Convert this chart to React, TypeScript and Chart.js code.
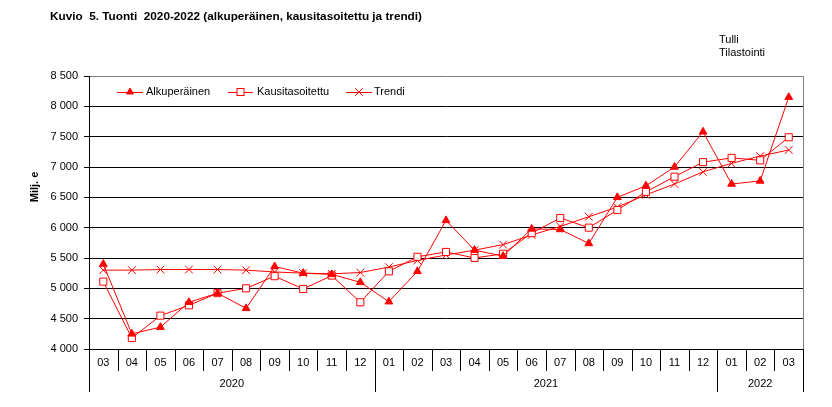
import React, { useEffect, useRef } from "react";
import { Chart, registerables } from "chart.js";

Chart.register(...registerables);

const months = ["03","04","05","06","07","08","09","10","11","12","01","02","03","04","05","06","07","08","09","10","11","12","01","02","03"];
const years = ["2020","2020","2020","2020","2020","2020","2020","2020","2020","2020","2021","2021","2021","2021","2021","2021","2021","2021","2021","2021","2021","2021","2022","2022","2022"];

const alkuperainen = [5400,4250,4360,4770,4920,4670,5360,5250,5230,5100,4780,5280,6120,5630,5530,5980,5970,5740,6500,6690,7000,7580,6720,6770,8150];
const kausitasoitettu = [5110,4180,4550,4720,4920,5000,5200,4990,5210,4770,5280,5520,5600,5500,5570,5910,6160,6000,6290,6590,6840,7080,7150,7110,7490];
const trendi = [5300,5300,5310,5310,5310,5300,5270,5250,5240,5260,5350,5460,5550,5630,5720,5880,6020,6180,6340,6540,6720,6920,7060,7180,7280];

const seriesNames = ["Alkuperäinen", "Kausitasoitettu", "Trendi"];
const titleText = "Kuvio  5. Tuonti  2020-2022 (alkuperäinen, kausitasoitettu ja trendi)";
const sourceLines = ["Tulli", "Tilastointi"];
const yTitle = "Milj. e";

const RED = "#ff0000";
const FONT = "Arial, 'Liberation Sans', sans-serif";

function fmt(v: number) {
  return String(v).replace(/\B(?=(\d{3})+(?!\d))/g, " ");
}

function drawMarker(ctx: CanvasRenderingContext2D, kind: number, x: number, y: number) {
  ctx.save();
  ctx.strokeStyle = RED;
  ctx.fillStyle = RED;
  ctx.lineWidth = 1;
  if (kind === 0) {
    const r = 4;
    ctx.beginPath();
    ctx.moveTo(x, y - r);
    ctx.lineTo(x + r * 0.866, y + r * 0.5);
    ctx.lineTo(x - r * 0.866, y + r * 0.5);
    ctx.closePath();
    ctx.fill();
    ctx.stroke();
  } else if (kind === 1) {
    const s = 3.5;
    ctx.fillStyle = "#fff";
    ctx.fillRect(x - s, y - s, 2 * s, 2 * s);
    ctx.strokeRect(x - s, y - s, 2 * s, 2 * s);
  } else {
    const s = 3.8;
    ctx.beginPath();
    ctx.moveTo(x - s, y - s);
    ctx.lineTo(x + s, y + s);
    ctx.moveTo(x + s, y - s);
    ctx.lineTo(x - s, y + s);
    ctx.stroke();
  }
  ctx.restore();
}

const decorPlugin = {
  id: "decor",
  afterDraw(chart: any) {
    const ctx: CanvasRenderingContext2D = chart.ctx;
    const area = chart.chartArea;
    const xs = chart.scales.x;
    const n = months.length;
    const w = xs.getPixelForValue(1) - xs.getPixelForValue(0);
    const edge = (i: number) => xs.getPixelForValue(i) - w / 2;
    ctx.save();

    // right border
    ctx.strokeStyle = "#808080";
    ctx.lineWidth = 1;
    ctx.beginPath();
    ctx.moveTo(Math.round(area.right) + 0.5, area.top);
    ctx.lineTo(Math.round(area.right) + 0.5, area.bottom);
    ctx.stroke();

    // x axis cells
    ctx.strokeStyle = "#000";
    ctx.fillStyle = "#000";
    ctx.font = "11px " + FONT;
    ctx.textAlign = "center";
    ctx.textBaseline = "middle";
    for (let i = 0; i <= n; i++) {
      const isYearEdge = i === 0 || i === n || years[i] !== years[i - 1];
      const xp = Math.round(edge(i)) + 0.5;
      ctx.beginPath();
      ctx.moveTo(xp, area.bottom);
      ctx.lineTo(xp, area.bottom + (isYearEdge ? 43 : 22));
      ctx.stroke();
    }
    for (let i = 0; i < n; i++) {
      ctx.fillText(months[i], xs.getPixelForValue(i), area.bottom + 14);
    }
    let start = 0;
    for (let i = 1; i <= n; i++) {
      if (i === n || years[i] !== years[start]) {
        const cx = (edge(start) + edge(i)) / 2;
        ctx.fillText(years[start], cx, area.bottom + 35);
        start = i;
      }
    }

    // legend
    const legendItems = [
      { x1: 117, x2: 143, tx: 146 },
      { x1: 228, x2: 253, tx: 257 },
      { x1: 346, x2: 372, tx: 374 },
    ];
    const ly = 92;
    ctx.textAlign = "left";
    legendItems.forEach((it, k) => {
      ctx.strokeStyle = RED;
      ctx.beginPath();
      ctx.moveTo(it.x1, ly + 0.5);
      ctx.lineTo(it.x2, ly + 0.5);
      ctx.stroke();
      drawMarker(ctx, k, (it.x1 + it.x2) / 2, ly);
      ctx.fillStyle = "#000";
      ctx.fillText(seriesNames[k], it.tx, ly);
    });

    // title
    ctx.font = "bold 11.75px " + FONT;
    ctx.fillText(titleText, 50, 17);

    // source
    ctx.font = "11px " + FONT;
    ctx.fillText(sourceLines[0], 719, 40);
    ctx.fillText(sourceLines[1], 719, 53);

    // y title
    ctx.save();
    ctx.translate(35, 187);
    ctx.rotate(-Math.PI / 2);
    ctx.textAlign = "center";
    ctx.font = "bold 11px " + FONT;
    ctx.fillText(yTitle, 0, 0);
    ctx.restore();

    ctx.restore();
  },
};

export default function App() {
  const ref = useRef<HTMLCanvasElement>(null);
  useEffect(() => {
    if (!ref.current) return;
    const chart = new Chart(ref.current, {
      type: "line",
      data: {
        labels: months.map((m, i) => m + "/" + years[i]),
        datasets: [
          {
            label: seriesNames[0],
            data: alkuperainen,
            borderColor: RED,
            backgroundColor: RED,
            borderWidth: 1,
            pointStyle: "triangle",
            pointRadius: 4.5,
            pointBorderWidth: 1,
            pointBackgroundColor: RED,
            pointBorderColor: RED,
          },
          {
            label: seriesNames[1],
            data: kausitasoitettu,
            borderColor: RED,
            backgroundColor: "#fff",
            borderWidth: 1,
            pointStyle: "rect",
            pointRadius: 5,
            pointBorderWidth: 1,
            pointBackgroundColor: "#fff",
            pointBorderColor: RED,
          },
          {
            label: seriesNames[2],
            data: trendi,
            borderColor: RED,
            backgroundColor: RED,
            borderWidth: 1,
            pointStyle: "crossRot",
            pointRadius: 5.5,
            pointBorderWidth: 1,
            pointBorderColor: RED,
          },
        ],
      },
      options: {
        animation: false,
        responsive: false,
        maintainAspectRatio: false,
        events: [],
        layout: { padding: { top: 76, right: 29, bottom: 58, left: 0 } },
        plugins: {
          legend: { display: false },
          tooltip: { enabled: false },
          title: { display: false },
        },
        scales: {
          x: {
            type: "category",
            display: false,
            offset: true,
          },
          y: {
            min: 4000,
            max: 8500,
            afterFit: (s: any) => { s.width = 89; },
            ticks: {
              stepSize: 500,
              color: "#000",
              padding: 6,
              font: { family: FONT, size: 11 },
              callback: (v: any) => fmt(Number(v)),
            },
            grid: {
              color: (c: any) => (c.tick && c.tick.value === 8500 ? "#808080" : "#000"),
              tickColor: "#000",
              tickLength: 5,
              lineWidth: 1,
            },
            border: { color: "#000", width: 1 },
          },
        },
      },
      plugins: [decorPlugin],
    });
    return () => chart.destroy();
  }, []);
  return (
    <div style={{ position: "fixed", left: 0, top: 0, width: 832, height: 407, background: "#fff" }}>
      <canvas ref={ref} width={832} height={407} style={{ display: "block" }} />
    </div>
  );
}
